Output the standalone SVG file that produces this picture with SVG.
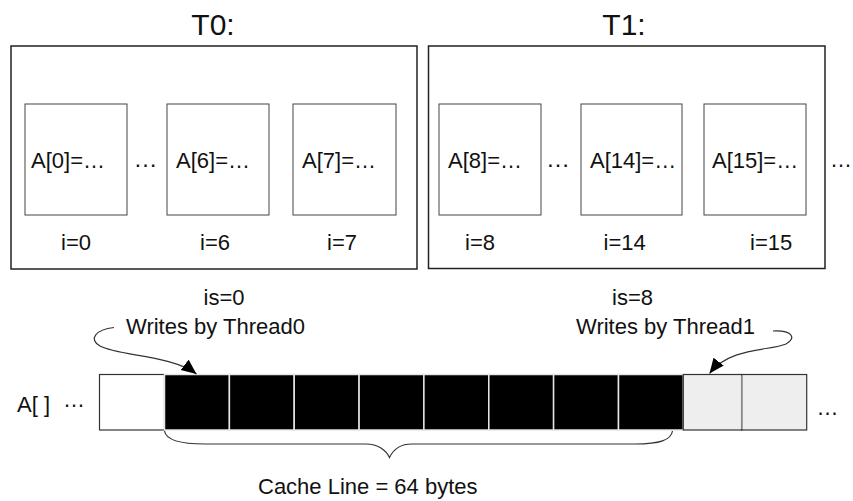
<svg xmlns="http://www.w3.org/2000/svg" width="853" height="501" viewBox="0 0 853 501">
<style>
text{font-family:"Liberation Sans",Arial,sans-serif;fill:#111;font-size:22px}
.title{font-size:30px;text-anchor:middle}
.mid{text-anchor:middle}
.outer{fill:#fff;stroke:#222;stroke-width:1.5}
.inner{fill:#fff;stroke:#444;stroke-width:1}
.blk{fill:#000;stroke:#e6e6e6;stroke-width:1.5}
.wht{fill:#fff;stroke:#333;stroke-width:1.2}
.gry{fill:#eeeeee;stroke:#333;stroke-width:1.2}
.conn{fill:none;stroke:#333;stroke-width:1.2}
</style>
<defs>
<marker id="ah" markerUnits="userSpaceOnUse" markerWidth="16" markerHeight="14" refX="15" refY="6.5" orient="auto">
<path d="M0,0 L15,6.5 L0,13 z" fill="#000"/>
</marker>
</defs>
<rect width="853" height="501" fill="#fff"/>

<g id="T0">
<text class="title" x="213" y="35">T0:</text>
<rect class="outer" x="11" y="46" width="406" height="223"/>
<g id="A0"><rect class="inner" x="25" y="104" width="102" height="111"/><text x="31" y="168">A[0]=…</text></g>
<text x="133.5" y="167" style="font-size:24px">…</text>
<g id="A6"><rect class="inner" x="167" y="104" width="102" height="111"/><text x="176" y="168">A[6]=…</text></g>
<g id="A7"><rect class="inner" x="293" y="104" width="103" height="111"/><text x="302" y="168">A[7]=…</text></g>
<text x="61" y="250">i=0</text>
<text x="200" y="250">i=6</text>
<text x="327" y="250">i=7</text>
</g>

<g id="T1">
<text class="title" x="624" y="35">T1:</text>
<rect class="outer" x="428.5" y="46" width="396.5" height="222.5"/>
<g id="A8"><rect class="inner" x="439" y="104" width="102" height="111"/><text x="448" y="168">A[8]=…</text></g>
<text x="546" y="167" style="font-size:24px">…</text>
<g id="A14"><rect class="inner" x="581" y="104" width="101" height="111"/><text x="590" y="168">A[14]=…</text></g>
<g id="A15"><rect class="inner" x="704" y="104" width="102" height="111"/><text x="712" y="168">A[15]=…</text></g>
<text x="465" y="250">i=8</text>
<text x="603.5" y="250">i=14</text>
<text x="750" y="250">i=15</text>
</g>
<text x="830" y="167" style="font-size:22px">…</text>

<g id="labels">
<text class="mid" x="224" y="305">is=0</text>
<text class="mid" x="215.5" y="334">Writes by Thread0</text>
<text class="mid" x="632.5" y="305">is=8</text>
<text class="mid" x="665.5" y="334">Writes by Thread1</text>
</g>

<g id="array">
<text x="17" y="412">A[ ]</text>
<text x="63" y="406.5">…</text>
<rect class="wht" x="99.5" y="374.5" width="65" height="55.5"/>
<rect class="blk" x="164.5" y="374.5" width="64.9" height="55.5"/>
<rect class="blk" x="229.4" y="374.5" width="64.8" height="55.5"/>
<rect class="blk" x="294.2" y="374.5" width="64.9" height="55.5"/>
<rect class="blk" x="359.1" y="374.5" width="64.8" height="55.5"/>
<rect class="blk" x="423.9" y="374.5" width="64.9" height="55.5"/>
<rect class="blk" x="488.8" y="374.5" width="64.8" height="55.5"/>
<rect class="blk" x="553.6" y="374.5" width="64.9" height="55.5"/>
<rect class="blk" x="618.5" y="374.5" width="64.8" height="55.5"/>
<rect class="gry" x="683.3" y="374.5" width="58.4" height="55.5"/>
<rect class="gry" x="741.7" y="374.5" width="65" height="55.5"/>
<line x1="741.7" y1="375.5" x2="741.7" y2="429" stroke="#888" stroke-width="1.5"/>
<text x="816.5" y="414.5">…</text>
</g>

<g id="connectors">
<path class="conn" d="M114,327.5 C96,329.5 88,339 100,346 C118,356 172,355 196.5,374" marker-end="url(#ah)"/>
<path class="conn" d="M773,331 C792,330 797,338 786,344 C770,351 730,347 709.5,373.5" marker-end="url(#ah)"/>
<path class="conn" d="M164.5,431 C166,440 180,444 205,444 L366,444 C378,444 386,450 389.5,457.5 C393,450 400,444 412,444 L635,444 C660,444 671,440 672.5,431"/>
</g>
<text x="258" y="494">Cache Line = 64 bytes</text>
</svg>
